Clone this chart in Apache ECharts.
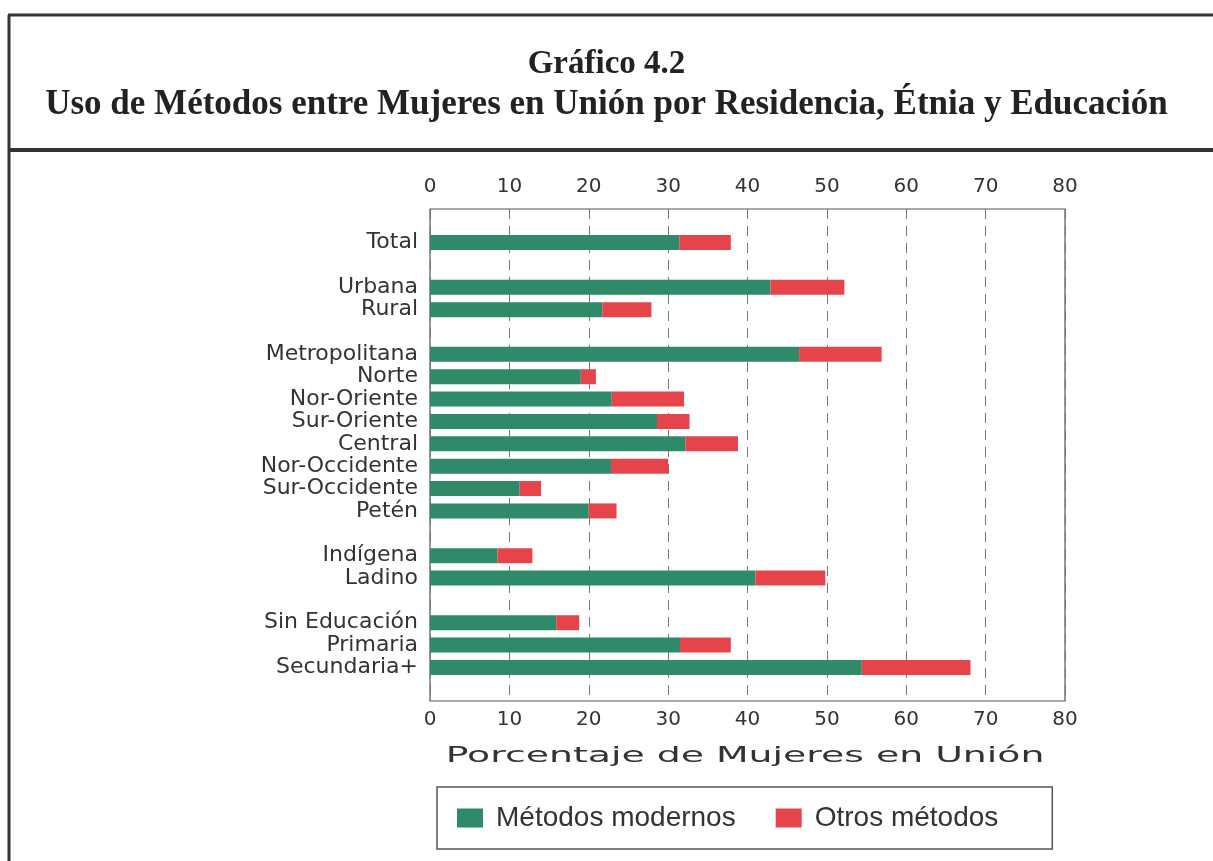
<!DOCTYPE html>
<html>
<head>
<meta charset="utf-8">
<script src="https://cdn.jsdelivr.net/npm/echarts@6/dist/echarts.min.js"></script>
<style>
  html, body { margin: 0; padding: 0; background: #fff; }
  #chart { width: 1213px; height: 861px; }
</style>
</head>
<body>
<div id="chart"></div>
<script>
// rows top to bottom, blank strings are spacer rows between groups
var categories = [' ', 'Total', '  ', 'Urbana', 'Rural', '   ',
  'Metropolitana', 'Norte', 'Nor-Oriente', 'Sur-Oriente', 'Central',
  'Nor-Occidente', 'Sur-Occidente', 'Petén', '    ',
  'Indígena', 'Ladino', '     ',
  'Sin Educación', 'Primaria', 'Secundaria+', '      '];
var modernos = ['-', 31.4, '-', 42.9, 21.7, '-',
  46.5, 19.0, 22.9, 28.6, 32.2, 22.8, 11.3, 20.0, '-',
  8.5, 41.0, '-',
  15.9, 31.5, 54.4, '-'];
var otros = ['-', 6.5, '-', 9.3, 6.2, '-',
  10.4, 1.9, 9.1, 4.1, 6.6, 7.2, 2.7, 3.5, '-',
  4.4, 8.8, '-',
  2.9, 6.4, 13.7, '-'];
var seriesNames = ['Métodos modernos', 'Otros métodos'];
var titleLines = ['Gráfico 4.2', 'Uso de Métodos entre Mujeres en Unión por Residencia, Étnia y Educación'];
var axisTitle = 'Porcentaje de Mujeres en Unión';

var green = '#2f8a69';
var red = '#e5444b';
var wide = 'DejaVu Sans';

var chart = echarts.init(document.getElementById('chart'));

function valueAxis(pos) {
  return {
    type: 'value', position: pos, min: 0, max: 80, interval: 10,
    axisLine: { show: false }, axisTick: { show: false },
    axisLabel: { fontFamily: wide, fontSize: 20, color: '#333', margin: pos === 'top' ? 12 : 9 },
    splitLine: { show: pos === 'bottom', lineStyle: { type: [10, 7], color: '#777', width: 1 } }
  };
}

chart.setOption({
  animation: false,
  backgroundColor: '#fff',
  title: [
    { text: titleLines[0], left: 'center', top: 43,
      textStyle: { fontFamily: 'Liberation Serif', fontWeight: 'bold', fontSize: 33, color: '#222' } },
    { text: titleLines[1], left: 'center', top: 82,
      textStyle: { fontFamily: 'Liberation Serif', fontWeight: 'bold', fontSize: 35, color: '#222' } }
  ],
  graphic: [
    { type: 'line', shape: { x1: 8, y1: 15, x2: 1213, y2: 15 }, style: { stroke: '#333', lineWidth: 3 } },
    { type: 'line', shape: { x1: 9, y1: 15, x2: 9, y2: 861 }, style: { stroke: '#333', lineWidth: 3 } },
    { type: 'line', shape: { x1: 8, y1: 150, x2: 1213, y2: 150 }, style: { stroke: '#333', lineWidth: 4 } },
    // x axis title, stretched to match the wide lettering of the original
    { type: 'text', x: 745, y: 757, scaleX: 1.8, originX: 0, originY: 0,
      style: { text: axisTitle, fontFamily: wide, fontSize: 21, fill: '#333',
        align: 'center', verticalAlign: 'middle' } }
  ],
  legend: {
    data: seriesNames,
    left: 437, top: 787,
    padding: [17, 54, 17, 20],
    borderColor: '#555', borderWidth: 1.5,
    itemWidth: 26, itemHeight: 19, itemGap: 40,
    icon: 'rect',
    textStyle: { fontFamily: 'Liberation Sans', fontSize: 28, color: '#333', padding: [0, 0, 0, 8] }
  },
  grid: {
    left: 430, right: 148, top: 209, bottom: 160,
    show: true, borderColor: '#555', borderWidth: 1.2, backgroundColor: 'transparent'
  },
  xAxis: [valueAxis('bottom'), valueAxis('top')],
  yAxis: {
    type: 'category', data: categories, inverse: true,
    axisLine: { show: false }, axisTick: { show: false },
    axisLabel: { fontFamily: wide, fontSize: 22, color: '#333', margin: 12, interval: 0 }
  },
  series: [
    { name: seriesNames[0], type: 'bar', stack: 'uso', data: modernos, barWidth: 15,
      itemStyle: { color: green } },
    { name: seriesNames[1], type: 'bar', stack: 'uso', data: otros, barWidth: 15,
      itemStyle: { color: red } }
  ]
});
</script>
</body>
</html>
